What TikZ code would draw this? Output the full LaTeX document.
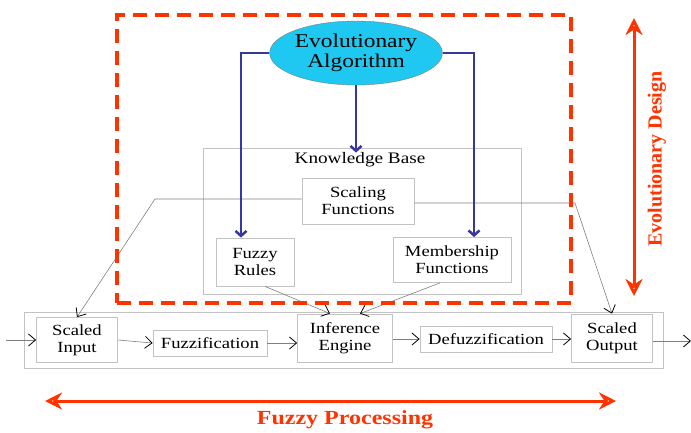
\documentclass[tikz,border=0pt]{standalone}
\usepackage{fontspec}
\setmainfont{Liberation Serif}[FakeStretch=1.2]
\newfontfamily\sidefont{Liberation Serif}
\usetikzlibrary{arrows.meta,shapes.geometric}
\definecolor{evored}{RGB}{255,51,0}
\definecolor{evoblue}{RGB}{55,55,160}
\definecolor{eacyan}{RGB}{30,200,240}
\definecolor{boxgray}{RGB}{195,195,195}
\tikzset{
    blk/.style={draw=boxgray, line width=0.8pt, align=center, inner sep=0pt,
        font=\fontsize{15.5}{17}\selectfont},
    flow/.style={draw=gray, line width=0.6pt, -{Straight Barb[black,length=7pt,width=12pt,line width=0.8pt]}},
    evoline/.style={draw=evoblue, line width=2.5pt, -{Straight Barb[length=5pt,width=11pt]}},
    bigarrow/.style={evored, line width=3pt, {Stealth[open,length=17pt,width=17pt]}-{Stealth[open,length=17pt,width=17pt]}},
    biglabel/.style={text=evored, font=\bfseries\fontsize{20}{22}\selectfont}
}
\begin{document}
\begin{tikzpicture}[x=1pt,y=-1pt]
    \useasboundingbox (0,0) rectangle (691,432);
    % containers
    \node[draw=boxgray, line width=0.8pt, minimum width=639pt, minimum height=56pt] (proc) at (343.5,340) {};
    \node[draw=boxgray, line width=0.8pt, minimum width=318pt, minimum height=146pt] (kb) at (362,221) {};
    \node[font=\fontsize{16}{18}\selectfont] (kbl) at (360,160) {Knowledge Base};
    % knowledge base parts
    \node[blk, minimum width=112pt, minimum height=46pt] (scale) at (358,201) {Scaling\\Functions};
    \node[blk, minimum width=78pt, minimum height=48pt] (rules) at (255,262) {Fuzzy\\Rules};
    \node[blk, minimum width=118pt, minimum height=45pt] (mf) at (452,260) {Membership\\Functions};
    % processing chain
    \node[blk, minimum width=81pt, minimum height=45pt] (sin) at (77,340) {Scaled\\Input};
    \node[blk, minimum width=114pt, minimum height=26pt] (fuzz) at (210,343) {Fuzzification};
    \node[blk, minimum width=95pt, minimum height=48pt] (ie) at (345,338) {Inference\\Engine};
    \node[blk, minimum width=132pt, minimum height=26pt] (defuzz) at (486,339) {Defuzzification};
    \node[blk, minimum width=81pt, minimum height=48pt] (sout) at (612,338) {Scaled\\Output};
    \coordinate (in) at (6,340);
    \coordinate (out) at (691,341);
    \draw[flow] (in) -- (sin.west);
    \draw[flow] (sin.east) -- (fuzz.west);
    \draw[flow] (fuzz.east) -- (ie.west |- fuzz.east);
    \draw[flow] (ie.east |- defuzz.west) -- (defuzz.west);
    \draw[flow] (defuzz.east) -- (sout.west |- defuzz.east);
    \draw[flow] (sout.east |- out) -- (out);
    % scaling functions to the scaled boxes
    \coordinate (sl) at (155,199);
    \coordinate (sr) at (575,203);
    \draw[flow] (scale.west |- sl) -- (sl) -- (sin.north);
    \draw[flow] (scale.east |- sr) -- (sr) -- (sout.north);
    \draw[flow] ([xshift=10pt]rules.south) -- ([xshift=-15pt]ie.north);
    \draw[flow] ([xshift=-12pt]mf.south) -- ([xshift=15pt]ie.north);
    % evolutionary part
    \node[draw=evored, line width=3.5pt, dash pattern=on 14pt off 8pt,
        minimum width=454pt, minimum height=288pt] (evo) at (344,159) {};
    \node[ellipse, draw=gray, fill=eacyan, minimum width=164pt, minimum height=64pt,
        inner sep=0pt, align=center, font=\fontsize{19.5}{20}\selectfont] (ea) at (356,53) {Evolutionary\\Algorithm};
    \draw[evoline] (ea.west) -| ([xshift=-14pt]rules.north);
    \draw[evoline] (ea.east) -| ([xshift=22pt]mf.north);
    \draw[evoline] (ea.south) -- ([yshift=-5pt]ea.south |- kb.north);
    % side arrows
    \coordinate (fpl) at (45,401);
    \coordinate (fpr) at (616,401);
    \draw[bigarrow] (fpl) -- (fpr);
    \node[biglabel] (fpt) at (345,420) {Fuzzy Processing};
    \coordinate (edt) at (634,18);
    \coordinate (edb) at (634,296);
    \draw[bigarrow] (edt) -- (edb);
    \node[biglabel, font=\sidefont\bfseries\fontsize{20}{22}\selectfont, rotate=90] (edl) at (657,159) {Evolutionary Design};
\end{tikzpicture}
\end{document}
